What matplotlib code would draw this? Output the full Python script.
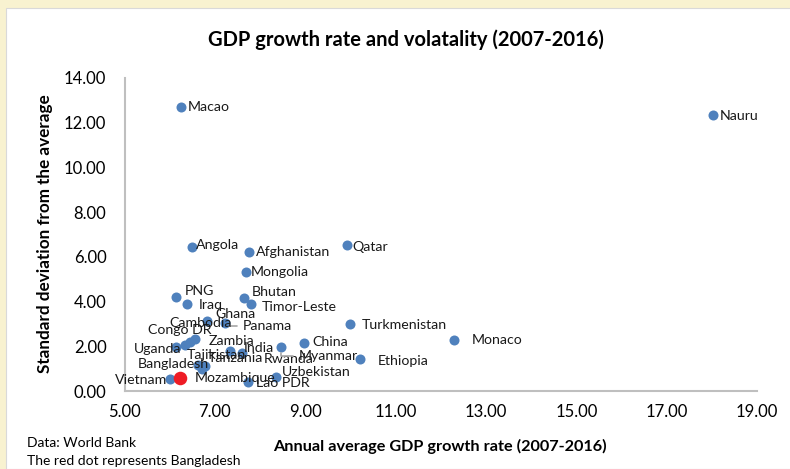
import matplotlib.pyplot as plt
from matplotlib.patches import Rectangle

plt.rcParams['font.family'] = ['Lato', 'DejaVu Sans']

# data
countries = ["Macao", "Nauru", "Angola", "Afghanistan", "Qatar", "Mongolia", "PNG", "Iraq",
             "Bhutan", "Timor-Leste", "Ghana", "Panama", "Cambodia", "Congo DR", "Zambia",
             "Uganda", "India", "Rwanda", "Myanmar", "China", "Turkmenistan", "Monaco",
             "Ethiopia", "Tajikistan", "Tanzania", "Mozambique", "Vietnam", "Uzbekistan",
             "Lao PDR"]
growth = [6.26, 18.03, 6.50, 7.75, 9.93, 7.69, 6.13, 6.38,
          7.64, 7.81, 6.82, 7.22, 6.46, 6.33, 6.55,
          6.13, 7.34, 7.59, 8.46, 8.97, 10.00, 12.29,
          10.21, 6.62, 6.79, 6.71, 6.00, 8.36,
          7.73]
stdev = [12.70, 12.34, 6.43, 6.20, 6.53, 5.34, 4.22, 3.88,
         4.15, 3.89, 3.14, 3.05, 2.20, 2.06, 2.33,
         1.98, 1.80, 1.71, 1.97, 2.13, 3.00, 2.27,
         1.42, 1.16, 1.12, 0.98, 0.54, 0.61,
         0.39]
bd_growth = 6.22
bd_stdev = 0.57

# label offsets (pixels) from the dots, as placed in the original
offsets = {
    "Macao": (6, 0), "Nauru": (7, -1), "Angola": (4, 2), "Afghanistan": (7, 0),
    "Qatar": (5, -2), "Mongolia": (5, 0), "PNG": (9, 6), "Iraq": (12, -1),
    "Bhutan": (8, 6), "Timor-Leste": (10, -3), "Ghana": (9, 7), "Panama": (18, -3),
    "Cambodia": (-21, 19), "Congo DR": (-37, 15), "Zambia": (14, -2), "Uganda": (-42, -2),
    "India": (14, 3), "Rwanda": (22, -6), "Myanmar": (18, -9), "China": (9, 1),
    "Turkmenistan": (11, -1), "Monaco": (18, 0), "Ethiopia": (18, -2),
    "Tajikistan": (-11, 10), "Tanzania": (2, 8), "Mozambique": (-7, -9),
    "Vietnam": (-55, -1), "Uzbekistan": (6, 5), "Lao PDR": (8, -1),
}
leaders = ["Panama", "Myanmar"]

fig = plt.figure(figsize=(7.9, 4.69), dpi=100)
fig.patch.set_facecolor('#F8F2D0')
fig.patches.append(Rectangle((6 / 790, 0), 1, 1 - 8 / 469, transform=fig.transFigure,
                             facecolor='white', edgecolor='#D9D9D9', lw=0.8, zorder=-5))

ax = fig.add_axes([124.5 / 790, 78 / 469, (757 - 124.5) / 790, (391 - 78) / 469])
ax.set_facecolor('none')
ax.set_zorder(2)

ax.scatter(growth, stdev, s=52, color='#4F81BD', zorder=3, linewidths=0)
ax.scatter([bd_growth], [bd_stdev], s=95, color='#EE1C25', zorder=4, linewidths=0)

for name, x, y in zip(countries, growth, stdev):
    dx, dy = offsets[name]
    arrow = None
    if name in leaders:
        arrow = dict(arrowstyle='-', color='#A6A6A6', lw=1.2,
                     connectionstyle='angle,angleA=0,angleB=90,rad=0',
                     shrinkA=2, shrinkB=4)
    ax.annotate(name, (x, y), xytext=(dx, dy), textcoords='offset pixels',
                ha='left', va='center', fontsize=10.2, color='#1A1A1A', zorder=5,
                arrowprops=arrow)
ax.annotate("Bangladesh", (bd_growth, bd_stdev), xytext=(-42, 14), textcoords='offset pixels',
            ha='left', va='center', fontsize=10.2, color='#1A1A1A', zorder=5)

ax.set_xlim(5, 19)
ax.set_ylim(0, 14)
ax.set_xticks(range(5, 20, 2))
ax.set_yticks(range(0, 15, 2))
ax.xaxis.set_major_formatter(lambda v, p: f"{v:.2f}")
ax.yaxis.set_major_formatter(lambda v, p: f"{v:.2f}")
ax.tick_params(length=0, labelsize=12, colors='#000000')
ax.tick_params(axis='x', pad=9)
ax.tick_params(axis='y', pad=13)

for side in ['top', 'right']:
    ax.spines[side].set_visible(False)
for side in ['left', 'bottom']:
    ax.spines[side].set_color('#BFBFBF')
    ax.spines[side].set_linewidth(1.5)

fig.text(406 / 790, 1 - 40 / 469, "GDP growth rate and volatality (2007-2016)",
         ha='center', va='center', fontsize=14.5, fontweight='bold')
fig.text(440 / 790, 1 - 446 / 469, "Annual average GDP growth rate (2007-2016)",
         ha='center', va='center', fontsize=11.7, fontweight='bold')
fig.text(45 / 790, 1 - 234 / 469, "Standard deviation from the average",
         ha='center', va='center', rotation=90, fontsize=12.3, fontweight='bold')
fig.text(27 / 790, 1 - 443 / 469, "Data: World Bank", ha='left', va='center', fontsize=10)
fig.text(27 / 790, 1 - 461 / 469, "The red dot represents Bangladesh",
         ha='left', va='center', fontsize=10)

fig.savefig("out.png", dpi=100, facecolor=fig.get_facecolor())
